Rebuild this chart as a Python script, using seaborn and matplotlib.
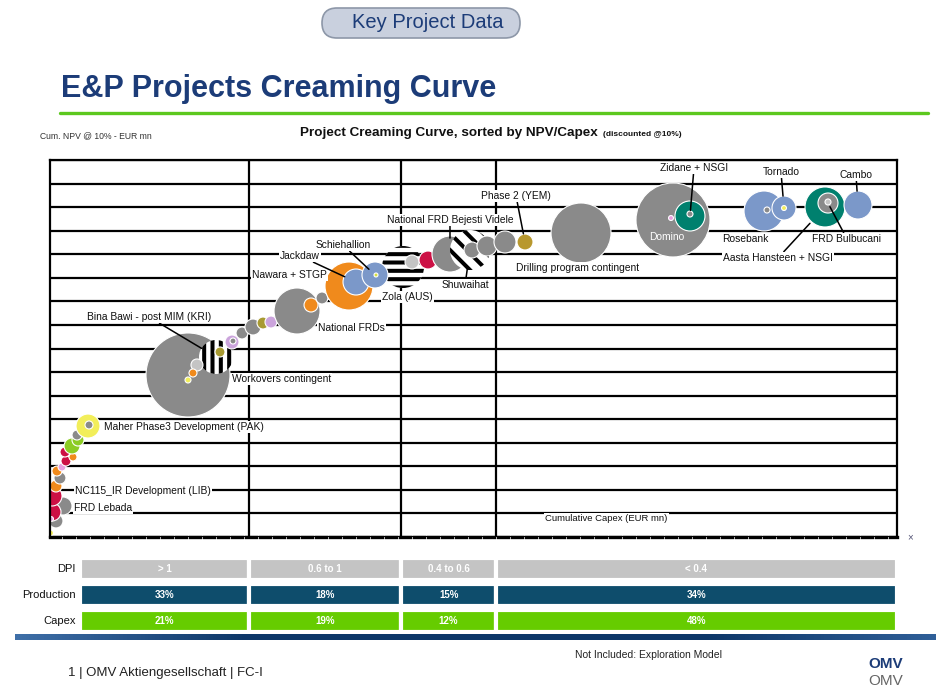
import matplotlib
matplotlib.use("Agg")
import numpy as np
import pandas as pd
import matplotlib.pyplot as plt
from matplotlib.patches import FancyBboxPatch
from matplotlib.colors import LinearSegmentedColormap
import seaborn as sns

# ---------------------------------------------------------------- data
project = [
    "", "", "FRD Lebada", "", "NC115_IR Development (LIB)", "", "", "", "", "",
    "", "", "", "", "", "", "Maher Phase3 Development (PAK)", "",
    "Workovers contingent", "Bina Bawi - post MIM (KRI)", "", "", "", "", "", "",
    "", "", "", "", "National FRDs", "", "", "Nawara + STGP", "Zola (AUS)",
    "Jackdaw", "Schiehallion", "", "", "", "National FRD Bejesti Videle",
    "Shuwaihat", "", "", "", "Phase 2 (YEM)", "Drilling program contingent",
    "Domino", "", "Zidane + NSGI", "", "Rosebank", "", "Tornado", "",
    "Aasta Hansteen + NSGI", "FRD Bulbucani", "", "Cambo",
]
cum_capex = [
    10, 120, 261, 40, 40, 20, 120, 200, 140, 241,
    321, 462, 301, 442, 562, 542, 763, 783,
    2770, 3332, 2950, 2870, 2770, 3412, 3653, 3673,
    3854, 4074, 4275, 4436, 4958, 5239, 5459, 6001, 7085,
    6142, 6523, 6543, 7266, 7587, 8028,
    8430, 8470, 8771, 9132, 9534, 10658,
    12504, 12464, 12845, 12845, 14331, 14391, 14732, 14732,
    15555, 15615, 15615, 16217,
]
cum_npv = [
    85, 340, 658, 530, 870, 382, 1082, 1252, 1400, 1485,
    1613, 1698, 1804, 1931, 2058, 2164, 2355, 2377,
    3438, 3820, 3650, 3480, 3332, 3926, 4138, 4159,
    4329, 4456, 4541, 4562, 4796, 4923, 5072, 5326, 5729,
    5411, 5560, 5560, 5836, 5878, 6005,
    6090, 6090, 6175, 6260, 6260, 6451,
    6727, 6769, 6812, 6854, 6918, 6939, 6981, 6981,
    7003, 7087, 7109, 7045,
]
bubble_value = [
    9, 49, 81, 81, 100, 6, 36, 36, 25, 16,
    25, 16, 25, 64, 36, 25, 144, 16,
    1764, 289, 36, 16, 9, 25, 49, 9,
    36, 64, 36, 36, 529, 49, 36, 576, 441,
    169, 169, 4, 49, 81, 324,
    400, 64, 100, 121, 64, 900,
    1369, 6, 225, 9, 400, 9, 144, 6,
    400, 100, 9, 196,
]
colour = [
    "yellow", "grey", "grey", "crimson", "crimson", "pink", "orange", "grey", "orange", "pink",
    "crimson", "orange", "crimson", "green", "green", "grey", "yellow", "grey",
    "grey", "stripes", "lightgrey", "orange", "yellow", "olive", "violet", "grey",
    "grey", "grey", "olive", "violet", "grey", "orange", "grey", "orange", "stripes",
    "blue", "blue", "lime", "lightgrey", "crimson", "grey",
    "stripes", "grey", "grey", "grey", "gold", "grey",
    "grey", "pink", "teal", "grey", "blue", "grey", "blue", "yellow",
    "teal", "grey", "lightgrey", "blue",
]
pattern = [""] * len(project)
pattern[19] = "||"      # Bina Bawi
pattern[34] = "--"      # Zola
pattern[41] = "\\\\"    # Shuwaihat

dpi_bounds = [0, 4000, 7050, 8950, 17000]
dpi_class = ["> 1", "0.6 to 1", "0.4 to 0.6", "< 0.4"]
production_share = ["33%", "18%", "15%", "34%"]
capex_share = ["21%", "19%", "12%", "48%"]

palette = {
    "grey": "#8a8a8a", "lightgrey": "#c4c4c4", "crimson": "#cc1044",
    "orange": "#f08a1c", "yellow": "#f2ee5a", "green": "#8ccc24",
    "violet": "#cba4dc", "pink": "#e8a0e0", "olive": "#a89a32",
    "blue": "#7b98c9", "teal": "#00806e", "gold": "#b8982e", "lime": "#d6e040",
}

df = pd.DataFrame({"project": project, "cum_capex": cum_capex, "cum_npv": cum_npv,
                   "value": bubble_value, "colour": colour, "pattern": pattern})

# ---------------------------------------------------------------- style
sns.set_theme(style="white")
plt.rcParams["font.family"] = ["Liberation Sans", "DejaVu Sans"]
plt.rcParams["hatch.linewidth"] = 2.9
plt.rcParams["hatch.color"] = "black"

W, H = 936, 687
fig = plt.figure(figsize=(W / 100, H / 100), dpi=100)


def fx(px):
    return px / W


def fy(py):
    return 1 - py / H


NAVY = "#1c3c78"

# header
pill = FancyBboxPatch((322, H - 38), 198, 30, boxstyle="round,pad=0,rounding_size=15",
                      transform=None, facecolor="#c9d0de", edgecolor="#8d97a8", lw=1.2)
fig.patches.append(pill)
fig.text(fx(428), fy(23), "Key Project Data", fontsize=14.5, color=NAVY,
         ha="center", va="center")
fig.text(fx(61), fy(89), "E&P Projects Creaming Curve", fontsize=22,
         fontweight="bold", color=NAVY, ha="left", va="center")
fig.add_artist(plt.Line2D([fx(60), fx(928)], [fy(113), fy(113)], color="#5cc81e", lw=2.4))

fig.text(fx(40), fy(136), "Cum. NPV @ 10% - EUR mn", fontsize=6.2, color="#333333",
         ha="left", va="center")
fig.text(fx(300), fy(133), "Project Creaming Curve, sorted by NPV/Capex", fontsize=9.7,
         fontweight="bold", color="#111111", ha="left", va="center")
fig.text(fx(603), fy(134), "(discounted @10%)", fontsize=6, fontweight="bold",
         color="#111111", ha="left", va="center")

# ---------------------------------------------------------------- bubble chart
ax = fig.add_axes([fx(50), fy(537), (897 - 50) / W, (537 - 160) / H])
ax.set_xlim(0, 17000)
ax.set_ylim(0, 8000)
ax.set_yticks(np.arange(0, 8001, 500))
ax.set_xticks([])
ax.yaxis.grid(True, color="black", lw=1.6)
ax.set_axisbelow(True)
ax.tick_params(left=False, labelleft=False, bottom=False, labelbottom=False)
for b in dpi_bounds[1:-1]:
    ax.axvline(b, color="black", lw=1.6, zorder=1)
for side in ("left", "top", "right"):
    ax.spines[side].set_color("black")
    ax.spines[side].set_linewidth(1.6)
ax.spines["bottom"].set_color("black")
ax.spines["bottom"].set_linewidth(2.4)
ax.spines["bottom"].set_linestyle((0, (3, 1.2)))

VMAX = 2000
SMAX = 2.0736 * VMAX  # marker area (pt^2) at VMAX

# draw runs of consecutive rows so that striped bubbles keep their stacking order
run_id = (df["pattern"] != df["pattern"].shift()).cumsum()
for _, grp in df.groupby(run_id, sort=False):
    hatch = grp["pattern"].iloc[0]
    if hatch:
        sns.scatterplot(data=grp, x="cum_capex", y="cum_npv", size="value",
                        sizes=(0, SMAX), size_norm=(0, VMAX), color="white",
                        edgecolor="black", linewidth=0, hatch=hatch,
                        legend=False, ax=ax, zorder=2)
    else:
        sns.scatterplot(data=grp, x="cum_capex", y="cum_npv", size="value",
                        sizes=(0, SMAX), size_norm=(0, VMAX), hue="colour",
                        palette=palette, edgecolor="white", linewidth=0.8,
                        legend=False, ax=ax, zorder=2)
ax.set_xlabel("")
ax.set_ylabel("")

# label offsets in pixels from the bubble centre, alignment, leader shrink (pt)
label_layout = {
    "FRD Lebada": (11, -2, "left", None),
    "NC115_IR Development (LIB)": (23, 5, "left", None),
    "Maher Phase3 Development (PAK)": (16, -1, "left", None),
    "Bina Bawi - post MIM (KRI)": (-67, 40, "center", 12),
    "Workovers contingent": (44, -4, "left", None),
    "National FRDs": (21, -17, "left", None),
    "Nawara + STGP": (-22, 11, "right", None),
    "Jackdaw": (-56, 26, "center", 9),
    "Schiehallion": (-32, 30, "center", 6),
    "Zola (AUS)": (-21, -30, "left", None),
    "National FRD Bejesti Videle": (0, 34, "center", 11.5),
    "Shuwaihat": (-5, -35, "center", 13),
    "Phase 2 (YEM)": (-9, 46, "center", 6),
    "Drilling program contingent": (-3, -35, "center", None),
    "Zidane + NSGI": (4, 48, "center", 4),
    "Domino": (-6, -17, "center", None),
    "Rosebank": (-19, -28, "center", None),
    "Tornado": (-3, 36, "center", 8.6),
    "Cambo": (-2, 30, "center", 10),
    "FRD Bulbucani": (19, -36, "center", 3),
    "Aasta Hansteen + NSGI": (-47, -51, "center", 16),
}
for name, (dx, dy, ha, shrink) in label_layout.items():
    row = df[df["project"] == name].iloc[0]
    arrow = None
    if shrink is not None:
        arrow = dict(arrowstyle="-", color="black", lw=1.1, shrinkA=0, shrinkB=shrink)
    inside = name == "Domino"
    ax.annotate(name, xy=(row["cum_capex"], row["cum_npv"]), xytext=(dx, dy),
                textcoords="offset pixels", ha=ha, va="center", fontsize=7.4,
                color="white" if inside else "#111111", arrowprops=arrow,
                bbox=None if inside else dict(boxstyle="square,pad=0.12", fc="white", ec="none"),
                zorder=6, annotation_clip=False)

ax.text(0.585, 0.05, "Cumulative Capex (EUR mn)", transform=ax.transAxes, fontsize=6.8,
        color="#111111", ha="left", va="center",
        bbox=dict(boxstyle="square,pad=0.12", fc="white", ec="none"), zorder=6)
fig.text(fx(910), fy(537), "\u00d7", fontsize=7, color="#555577", ha="center", va="center")

# ---------------------------------------------------------------- DPI table
table_left = 600      # first cell starts a little right of the chart frame
tax = fig.add_axes([fx(50), fy(634), (897 - 50) / W, (634 - 556) / H])
tax.set_xlim(0, 17000)
tax.set_ylim(-0.5, 2.5)
tax.axis("off")
starts = [table_left] + dpi_bounds[1:-1]
widths = np.diff(starts + [dpi_bounds[-1]])
rows = [("DPI", dpi_class, "#c4c4c4"),
        ("Production", production_share, "#0e4d6c"),
        ("Capex", capex_share, "#66cc00")]
for i, (label, texts, col) in enumerate(rows):
    yy = 2 - i
    tax.barh([yy] * len(starts), widths, left=starts, height=0.86, color=col,
             edgecolor="white", linewidth=3)
    for s, w, t in zip(starts, widths, texts):
        tax.text(s + w / 2, yy, t, ha="center", va="center", fontsize=7,
                 fontweight="bold", color="white")
    tax.text(table_left - 90, yy, label, ha="right", va="center", fontsize=8,
             color="#111111")

# navy band under the table
band = fig.add_axes([fx(15), fy(640), 1 - fx(15), 6 / H])
grad = np.linspace(0, 1, 256)[None, :]
band.imshow(grad, aspect="auto",
            cmap=LinearSegmentedColormap.from_list("band", ["#3f6fa8", "#0d3768", "#0d3768", "#0d3768", "#2f5f98"]))
band.axis("off")

# footer
fig.text(fx(68), fy(673), "1 | OMV Aktiengesellschaft | FC-I", fontsize=9.5, color="#222222",
         ha="left", va="center")
fig.text(fx(575), fy(655), "Not Included: Exploration Model", fontsize=7.5, color="#222222",
         ha="left", va="center")
fig.text(fx(886), fy(664), "OMV", fontsize=11, fontweight="bold", color=NAVY,
         ha="center", va="center")
fig.text(fx(886), fy(681), "OMV", fontsize=11, color="#666666", ha="center", va="center")

fig.savefig("out.png", dpi=100)
